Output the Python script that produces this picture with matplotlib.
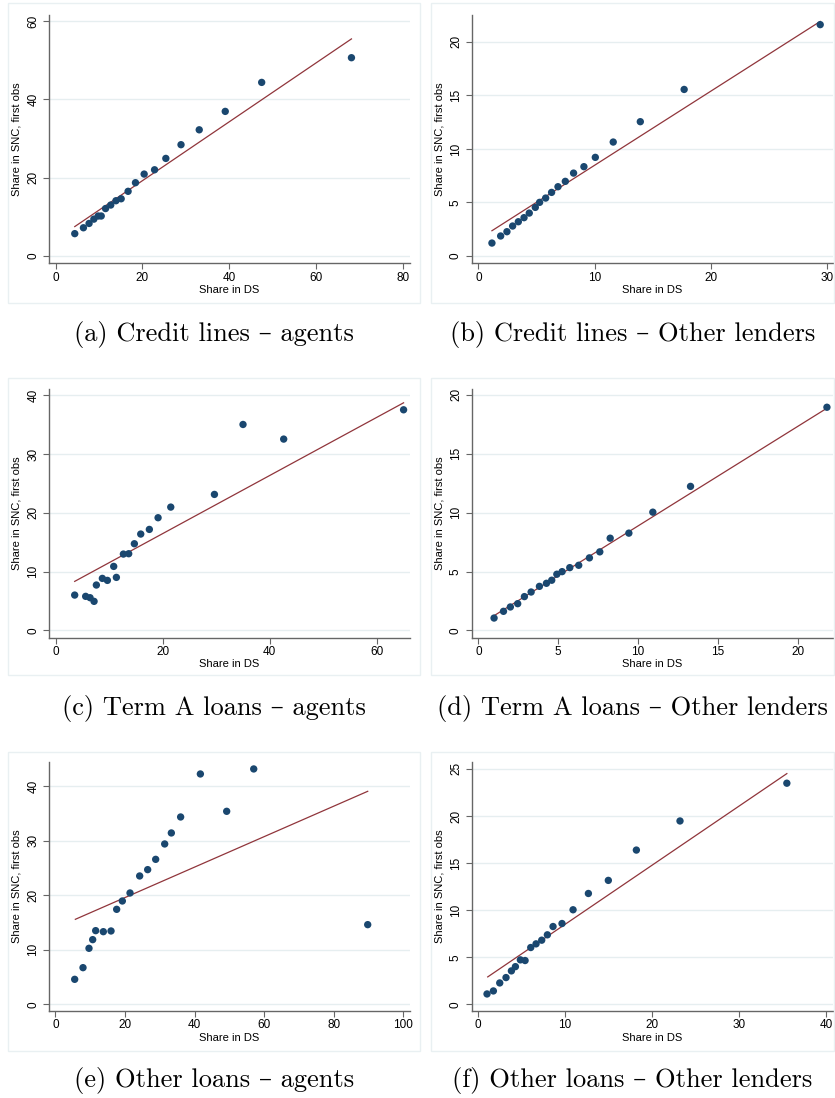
import matplotlib.pyplot as plt
from matplotlib.patches import Rectangle

# data: share in DS (x) vs share in SNC, first obs (y)
a_x = [4.4, 6.4, 7.7, 8.8, 9.8, 10.5, 11.5, 12.7, 13.9, 15.1, 16.7, 18.4, 20.4, 22.8, 25.4, 28.9, 33.1, 39.1, 47.5, 68.2]
a_y = [5.7, 7.2, 8.3, 9.4, 10.2, 10.2, 12.1, 13.0, 14.1, 14.6, 16.5, 18.7, 20.9, 22.0, 24.9, 28.4, 32.2, 36.9, 44.3, 50.6]
a_fit_x = [4.4, 68.2]
a_fit_y = [7.5, 55.4]

b_x = [1.17, 1.92, 2.46, 2.95, 3.44, 3.93, 4.38, 4.90, 5.27, 5.79, 6.30, 6.85, 7.48, 8.19, 9.08, 10.06, 11.6, 13.93, 17.7, 29.4]
b_y = [1.21, 1.87, 2.27, 2.80, 3.20, 3.58, 4.01, 4.54, 5.01, 5.41, 5.94, 6.47, 6.97, 7.74, 8.34, 9.21, 10.64, 12.54, 15.55, 21.6]
b_fit_x = [1.17, 29.4]
b_fit_y = [2.36, 21.9]

c_x = [3.55, 5.6, 6.42, 7.17, 7.6, 8.72, 9.66, 10.84, 11.34, 12.65, 13.64, 14.7, 15.89, 17.5, 19.13, 21.5, 29.66, 35.0, 42.6, 65.0]
c_y = [6.01, 5.79, 5.56, 4.94, 7.72, 8.85, 8.51, 10.89, 9.02, 12.99, 13.05, 14.75, 16.4, 17.19, 19.18, 20.99, 23.15, 35.06, 32.57, 37.56]
c_fit_x = [3.55, 65.0]
c_fit_y = [8.34, 38.75]

d_x = [0.98, 1.57, 2.0, 2.46, 2.88, 3.30, 3.82, 4.26, 4.59, 4.91, 5.24, 5.72, 6.28, 6.95, 7.60, 8.25, 9.42, 10.92, 13.28, 21.82]
d_y = [1.05, 1.62, 1.99, 2.27, 2.87, 3.26, 3.74, 4.0, 4.26, 4.77, 4.99, 5.33, 5.53, 6.16, 6.67, 7.83, 8.26, 10.04, 12.23, 18.95]
d_fit_x = [0.98, 21.82]
d_fit_y = [1.25, 18.87]

e_x = [5.56, 7.95, 9.67, 10.73, 11.59, 13.79, 16.0, 17.62, 19.25, 21.46, 24.23, 26.53, 28.83, 31.42, 33.33, 36.0, 41.67, 49.23, 57.0, 89.75]
e_y = [4.59, 6.73, 10.28, 11.87, 13.52, 13.33, 13.46, 17.43, 18.96, 20.43, 23.55, 24.71, 26.6, 29.42, 31.44, 34.37, 42.26, 35.41, 43.18, 14.62]
e_fit_x = [5.75, 89.75]
e_fit_y = [15.6, 39.08]

f_x = [1.07, 1.80, 2.53, 3.25, 3.87, 4.33, 4.90, 5.44, 6.09, 6.70, 7.35, 8.0, 8.65, 9.68, 10.95, 12.71, 15.0, 18.22, 23.23, 35.5]
f_y = [1.10, 1.42, 2.27, 2.84, 3.55, 4.0, 4.72, 4.65, 6.03, 6.42, 6.81, 7.38, 8.26, 8.58, 10.04, 11.77, 13.16, 16.38, 19.47, 23.48]
f_fit_x = [1.15, 35.5]
f_fit_y = [2.91, 24.5]

captions = ['(a) Credit lines – agents', '(b) Credit lines – Other lenders',
            '(c) Term A loans – agents', '(d) Term A loans – Other lenders',
            '(e) Other loans – agents', '(f) Other loans – Other lenders']
xticks = [[0, 20, 40, 60, 80], [0, 10, 20, 30], [0, 20, 40, 60],
          [0, 5, 10, 15, 20], [0, 20, 40, 60, 80, 100], [0, 10, 20, 30, 40]]
yticks = [[0, 20, 40, 60], [0, 5, 10, 15, 20], [0, 10, 20, 30, 40],
          [0, 5, 10, 15, 20], [0, 10, 20, 30, 40], [0, 5, 10, 15, 20, 25]]

panels = [(a_x, a_y, a_fit_x, a_fit_y), (b_x, b_y, b_fit_x, b_fit_y),
          (c_x, c_y, c_fit_x, c_fit_y), (d_x, d_y, d_fit_x, d_fit_y),
          (e_x, e_y, e_fit_x, e_fit_y), (f_x, f_y, f_fit_x, f_fit_y)]

# layout in pixels
W, H = 835, 1098
xlims = [(-1.54, 81.7), (-0.57, 30.5), (-1.25, 66.2), (-0.42, 22.2), (-1.82, 101.9), (-0.69, 40.8)]
ylims = [(-1.87, 61.5), (-0.68, 22.5), (-1.25, 41.1), (-0.62, 20.5), (-1.22, 44.4), (-0.71, 25.7)]
ax_lr = [(49, 410), (471.7, 833)]
ax_tb = [(15, 263.3), (389, 637.7), (762.3, 1011)]
box_lr = [(8, 420), (431, 834)]
box_tb = [(3, 303), (378, 675), (752, 1051)]
cap_y = [335, 709, 1081]

navy = '#1a476f'
maroon = '#90353b'
grid_c = '#e6eef0'
axis_c = '#666666'

plt.rcParams['font.family'] = ['Liberation Sans', 'DejaVu Sans']

fig = plt.figure(figsize=(W / 100, H / 100), dpi=100)

for i, (px, py, fx, fy) in enumerate(panels):
    r, c = i // 2, i % 2
    bl, br = box_lr[c]
    bt, bb = box_tb[r]
    fig.patches.append(Rectangle((bl / W, 1 - bb / H), (br - bl) / W, (bb - bt) / H,
                                 transform=fig.transFigure, fill=False,
                                 edgecolor='#e9f0f2', linewidth=1.0))
    l, rr = ax_lr[c]
    t, b = ax_tb[r]
    ax = fig.add_axes([l / W, 1 - b / H, (rr - l) / W, (b - t) / H])
    ax.set_xlim(xlims[i])
    ax.set_ylim(ylims[i])
    ax.set_xticks(xticks[i])
    ax.set_yticks(yticks[i])
    ax.yaxis.grid(True, color=grid_c, linewidth=1.0)
    ax.set_axisbelow(True)
    for s in ['top', 'right']:
        ax.spines[s].set_visible(False)
    for s in ['left', 'bottom']:
        ax.spines[s].set_color(axis_c)
        ax.spines[s].set_linewidth(1.0)
    ax.tick_params(axis='both', length=4, width=0.8, color=axis_c, labelsize=8.5, pad=2)
    ax.tick_params(axis='y', labelrotation=90, pad=3)
    for lab in ax.get_yticklabels():
        lab.set_va('center')

    ax.plot(fx, fy, color=maroon, linewidth=0.9, zorder=2)
    ax.scatter(px, py, s=28, color=navy, edgecolors='none', zorder=3)

    ax.set_xlabel('Share in DS', fontsize=8, labelpad=1)
    ax.set_ylabel('Share in SNC, first obs', fontsize=8, labelpad=4)

    fig.text((bl + br) / 2 / W, 1 - cap_y[r] / H, captions[i],
             family=['cmr10', 'DejaVu Serif'], fontsize=19,
             ha='center', va='center')

fig.savefig('out.png', dpi=100)
